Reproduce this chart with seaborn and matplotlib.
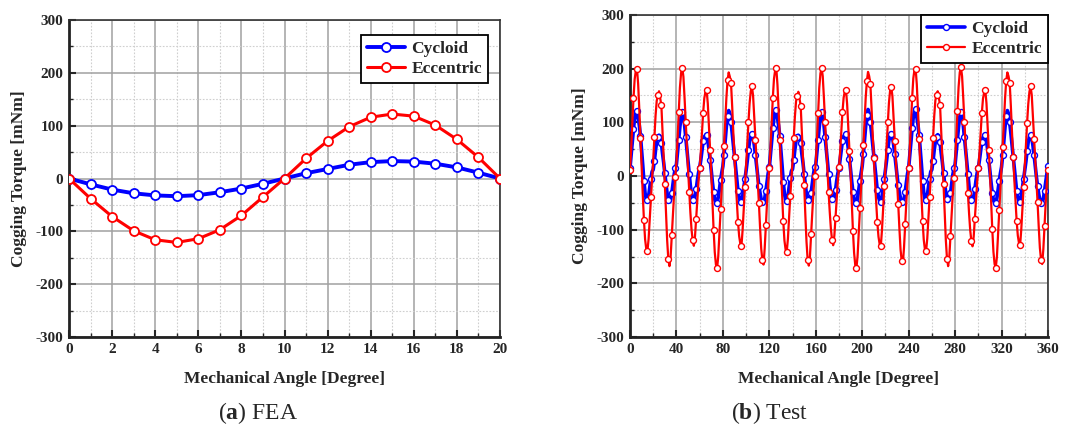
import numpy as np
import matplotlib
matplotlib.use("Agg")
import matplotlib.pyplot as plt
import seaborn as sns
from matplotlib.ticker import MultipleLocator

# ---------------- data ----------------
fea_angle = list(range(0, 21))
fea_cycloid = [0, -11, -21, -28, -32, -33.5, -31.5, -26, -19, -10, 0,
               10, 18, 26, 31, 33, 32, 28, 21, 11, 0]
fea_eccentric = [0, -38, -72, -99, -116, -121, -114, -97, -70, -35, 0,
                 38, 71, 98, 116, 122, 118, 101, 74, 40, 0]

test_angle = np.arange(0, 361, 1)
test_eccentric = [
    12, 50, 98, 145, 180, 196, 200, 172, 125, 70, 18, -35, -82, -118, -136, -140, -118, -80, -40, -5,
    30, 72, 112, 140, 150, 158, 145, 132, 85, 35, -15, -70, -120, -155, -168, -150, -110, -70, -32, -2,
    25, 70, 120, 165, 192, 202, 185, 145, 100, 55, 12, -30, -68, -100, -120, -130, -112, -80, -45, -10,
    15, 45, 82, 118, 145, 157, 160, 135, 92, 48, 5, -48, -100, -142, -165, -172, -150, -108, -62, -20,
    20, 55, 100, 145, 178, 193, 185, 173, 130, 80, 35, -8, -45, -85, -112, -126, -130, -100, -60, -20,
    20, 58, 100, 135, 158, 167, 150, 110, 68, 28, -10, -50, -95, -135, -157, -165, -135, -92, -50, -12,
    15, 52, 100, 146, 181, 197, 201, 170, 123, 68, 16, -36, -84, -120, -137, -141, -117, -78, -38, -4,
    28, 70, 110, 139, 149, 157, 144, 131, 84, 33, -16, -72, -122, -156, -167, -149, -108, -68, -30, 0,
    24, 68, 118, 164, 191, 202, 186, 146, 101, 56, 13, -29, -66, -98, -119, -129, -111, -79, -44, -9,
    16, 46, 84, 120, 146, 158, 161, 134, 90, 46, 4, -50, -102, -143, -166, -172, -149, -106, -60, -18,
    22, 57, 102, 146, 177, 194, 186, 172, 128, 78, 33, -10, -47, -86, -113, -127, -131, -101, -61, -19,
    21, 59, 101, 136, 159, 166, 149, 108, 66, 26, -12, -52, -97, -137, -158, -164, -133, -90, -48, -10,
    14, 51, 99, 146, 182, 198, 200, 171, 124, 69, 17, -36, -83, -119, -137, -140, -117, -79, -39, -3,
    29, 71, 111, 141, 151, 158, 146, 133, 86, 36, -14, -69, -119, -154, -168, -151, -111, -71, -33, -3,
    26, 71, 121, 166, 193, 203, 186, 146, 101, 56, 11, -31, -69, -101, -121, -131, -113, -81, -46, -11,
    14, 44, 81, 117, 144, 156, 160, 136, 93, 49, 6, -47, -99, -141, -164, -171, -151, -109, -63, -21,
    19, 54, 99, 144, 177, 193, 186, 174, 131, 81, 36, -7, -44, -84, -111, -125, -129, -99, -59, -21,
    19, 57, 99, 134, 157, 167, 151, 111, 69, 29, -9, -49, -94, -134, -156, -164, -136, -93, -51, -13,
    12]
test_cycloid = [
    15, 40, 65, 88, 108, 119, 122, 108, 95, 75, 48, 20, -10, -32, -43, -45, -38, -22, -5, 8,
    12, 28, 48, 64, 72, 76, 74, 62, 42, 25, 5, -15, -33, -44, -48, -44, -32, -15, 2, 15,
    22, 45, 68, 92, 110, 120, 112, 95, 72, 48, 25, 3, -18, -35, -44, -46, -38, -25, -8, 6,
    15, 30, 48, 65, 73, 76, 77, 68, 50, 30, 10, -12, -30, -44, -50, -50, -40, -25, -8, 6,
    18, 40, 66, 92, 112, 122, 116, 100, 80, 58, 35, 12, -10, -28, -40, -47, -48, -38, -22, -5,
    10, 28, 48, 65, 74, 78, 72, 58, 40, 20, 0, -18, -32, -43, -49, -50, -42, -28, -12, 5,
    16, 41, 66, 89, 109, 120, 123, 109, 94, 74, 47, 19, -11, -33, -44, -46, -38, -21, -4, 9,
    13, 29, 49, 65, 72, 76, 73, 61, 41, 24, 4, -16, -34, -45, -48, -43, -31, -14, 3, 16,
    21, 44, 67, 91, 109, 120, 113, 96, 73, 49, 26, 4, -17, -34, -43, -46, -39, -26, -9, 5,
    14, 31, 49, 66, 74, 77, 78, 69, 51, 31, 11, -11, -29, -43, -49, -50, -41, -26, -9, 5,
    19, 41, 67, 93, 114, 124, 117, 101, 81, 59, 36, 13, -9, -27, -39, -46, -48, -39, -23, -6,
    11, 29, 49, 66, 75, 79, 73, 59, 41, 21, 1, -17, -31, -42, -48, -50, -43, -29, -13, 4,
    15, 40, 66, 89, 110, 121, 124, 110, 96, 76, 49, 21, -9, -31, -42, -45, -37, -21, -5, 8,
    12, 28, 48, 64, 73, 77, 75, 63, 43, 26, 6, -14, -32, -43, -47, -44, -32, -15, 2, 14,
    22, 45, 68, 92, 110, 120, 112, 95, 72, 48, 25, 3, -18, -35, -44, -47, -39, -25, -8, 6,
    15, 30, 47, 64, 72, 75, 76, 67, 49, 29, 9, -13, -31, -45, -50, -51, -41, -26, -9, 5,
    17, 39, 65, 91, 111, 122, 116, 100, 80, 58, 35, 12, -10, -28, -40, -47, -49, -38, -22, -5,
    10, 27, 47, 64, 73, 77, 71, 57, 39, 19, -1, -19, -33, -44, -50, -50, -42, -28, -12, 4,
    18]

series_names = ["Cycloid", "Eccentric"]
series_colors = ["#0000ff", "#ff0000"]
x_label = "Mechanical Angle [Degree]"
y_label = "Cogging Torque [mNm]"
captions = [("a", "FEA"), ("b", "Test")]

# ---------------- style ----------------
sns.set_style("white")
plt.rcParams["font.family"] = ["Liberation Serif", "DejaVu Serif"]
plt.rcParams["axes.unicode_minus"] = False
plt.rcParams["mathtext.fontset"] = "custom"
plt.rcParams["mathtext.rm"] = "Liberation Serif"
plt.rcParams["mathtext.bf"] = "Liberation Serif:bold"

fig = plt.figure(figsize=(10.87, 4.34), dpi=100)
W, H = 1087, 434
ax1 = fig.add_axes([69 / W, 1 - 337 / H, 431 / W, 317 / H])
ax2 = fig.add_axes([630 / W, 1 - 337 / H, 418 / W, 322 / H])

# FEA panel
sns.lineplot(x=fea_angle, y=fea_cycloid, ax=ax1, color=series_colors[0], lw=2.8,
             marker="o", ms=6.5, mfc="white", mec=series_colors[0], mew=1.3,
             label=series_names[0], zorder=3)
sns.lineplot(x=fea_angle, y=fea_eccentric, ax=ax1, color=series_colors[1], lw=2.2,
             marker="o", ms=6.5, mfc="white", mec=series_colors[1], mew=1.3,
             label=series_names[1], zorder=4)

# Test panel
sns.lineplot(x=test_angle, y=test_cycloid, ax=ax2, color=series_colors[0], lw=2.6,
             marker="o", markevery=3, ms=4.3, mfc="white", mec=series_colors[0], mew=1.0,
             label=series_names[0], zorder=3)
sns.lineplot(x=test_angle, y=test_eccentric, ax=ax2, color=series_colors[1], lw=1.6,
             marker="o", markevery=3, ms=4.3, mfc="white", mec=series_colors[1], mew=1.0,
             label=series_names[1], zorder=4)

for ax, xmax, xmaj, xmin in [(ax1, 20, 2, 1), (ax2, 360, 40, 20)]:
    ax.set_xlim(0, xmax)
    ax.set_ylim(-300, 300)
    ax.xaxis.set_major_locator(MultipleLocator(xmaj))
    ax.xaxis.set_minor_locator(MultipleLocator(xmin))
    ax.yaxis.set_major_locator(MultipleLocator(100))
    ax.yaxis.set_minor_locator(MultipleLocator(50))
    ax.set_axisbelow(True)
    ax.grid(which="major", color="#a0a0a0", lw=1.1, ls="-")
    ax.grid(which="minor", color="#cfcfcf", lw=0.8, ls=(0, (1.5, 1.5)))
    ax.tick_params(which="major", direction="in", length=5, width=1.5,
                   labelsize=11, pad=4, bottom=True, left=True, top=False, right=False)
    ax.tick_params(which="minor", direction="in", length=3, width=1.0,
                   bottom=True, left=True, top=False, right=False)
    for lab in ax.get_xticklabels() + ax.get_yticklabels():
        lab.set_fontweight("bold")
    for side in ["top", "right"]:
        ax.spines[side].set_color("#333333")
        ax.spines[side].set_linewidth(1.2)
    for side in ["left", "bottom"]:
        ax.spines[side].set_color("#222222")
        ax.spines[side].set_linewidth(2.0)
    ax.set_xlabel(x_label, fontsize=12.5, fontweight="bold", labelpad=11)
    ax.set_ylabel(y_label, fontsize=12.5, fontweight="bold", labelpad=6)

leg_kw = dict(loc="upper right", frameon=True, fancybox=False, edgecolor="black",
              framealpha=1,
              prop={"family": "Liberation Serif", "weight": "bold", "size": 12.5},
              handlelength=2.2, handletextpad=0.35, borderpad=0.35,
              labelspacing=0.2, borderaxespad=0)
leg1 = ax1.legend(bbox_to_anchor=(0.972, 0.953), **leg_kw)
leg1.get_frame().set_linewidth(1.3)
leg2 = ax2.legend(bbox_to_anchor=(1.0, 1.0), **leg_kw)
leg2.get_frame().set_linewidth(1.3)

# captions
for (letter, rest), xc in zip(captions, [258 / W, 770 / W]):
    fig.text(xc, 1 - 413 / H, "$(\\mathbf{" + letter + "})$ " + rest, fontsize=17,
             ha="center", va="center")

fig.savefig("out.png", dpi=100)
